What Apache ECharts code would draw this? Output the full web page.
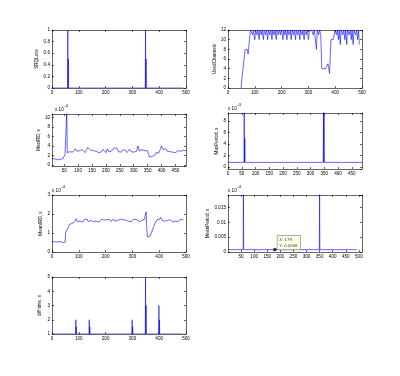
<!DOCTYPE html>
<html>
<head>
<meta charset="utf-8">
<script src="https://cdn.jsdelivr.net/npm/echarts@6/dist/echarts.min.js"></script>
<style>html,body{margin:0;padding:0;background:#fff}#c{width:400px;height:376px}</style>
</head>
<body>
<div id="c"></div>
<script>
// ---- data (x, y) ----
const srqLoss = [[1,0],[58,0],[59,1],[60,0],[61,0.5],[62,0],[348,0],[349,1],[350,0],[351,0.5],[352,0],[490,0]];

const usedChannels = [[49,0],[52,2],[56,4],[60,6],[64,8],[72,8],[75,7],[77,8],[80,10],[84,12],[88,12],[92,11],[95,12],[100,10],[103,12],[108,11],[112,12],[116,10],[119,12],[124,11],[128,12],[132,10],[135,12],[140,11],[144,12],[148,10],[151,12],[156,11],[160,12],[164,10],[167,12],[172,11],[176,12],[180,10],[183,12],[188,11],[192,12],[196,11],[200,12],[205,10],[208,12],[212,11],[216,12],[220,10],[223,12],[228,11],[232,12],[236,10],[239,12],[244,11],[248,12],[252,10],[255,12],[260,11],[264,12],[268,10],[271,12],[276,11],[280,12],[284,10],[287,12],[292,11],[296,12],[300,10],[304,12],[312,12],[318,11],[322,12],[326,12],[330,8],[333,12],[338,11],[342,12],[346,11],[350,4],[356,4],[364,4],[370,4],[373,5],[376,4],[379,3],[384,10],[392,10],[397,10],[400,12],[404,11],[408,12],[412,10],[415,12],[419,9],[422,12],[428,11],[432,12],[436,10],[439,12],[443,9],[446,12],[452,11],[456,12],[460,10],[463,12],[467,9],[470,12],[476,11],[480,12],[484,10],[487,12],[490,9]];

// MaxIRD in units of 1e-4 s
const maxIRD = [[6,1.3],[10,1.2],[15,1.3],[20,1.2],[25,1.1],[30,1.3],[35,1.2],[40,1.4],[45,1.3],[50,1.5],[53,2.2],[56,2.0],[58,2.4],[59,11],[60,11],[61,2.6],[65,2.5],[70,2.8],[75,2.4],[80,2.7],[85,3.1],[90,3.4],[95,2.9],[100,2.7],[105,3.0],[110,2.8],[115,3.2],[120,2.9],[125,2.6],[130,3.0],[135,3.7],[140,3.3],[145,3.1],[150,3.4],[155,3.0],[160,2.7],[165,2.9],[170,3.3],[175,2.6],[180,3.0],[185,2.8],[190,3.3],[195,2.9],[200,2.6],[205,3.4],[210,2.8],[215,3.1],[220,2.9],[225,3.3],[230,3.6],[235,3.2],[240,3.5],[245,2.8],[250,3.0],[255,2.7],[260,3.2],[265,2.9],[270,3.1],[275,2.6],[280,3.0],[285,3.3],[290,2.8],[295,3.0],[300,2.7],[305,3.1],[310,2.9],[315,4.0],[320,3.0],[325,2.8],[330,3.2],[335,2.9],[340,3.0],[345,2.8],[350,3.0],[353,2.2],[356,1.7],[360,1.6],[365,1.8],[370,1.7],[375,2.0],[380,2.6],[385,2.8],[390,2.5],[395,3.2],[400,4.0],[405,3.3],[410,3.1],[415,3.4],[420,2.9],[425,3.1],[430,2.8],[435,3.0],[440,2.7],[445,2.9],[450,2.6],[455,2.8],[460,3.0],[465,2.6],[470,2.9],[475,2.7],[480,3.1],[485,3.2],[488,3.0]];

// MaxPeriod in units of 1e-3 s
const maxPeriod = [[0,0.8],[58,0.8],[59,9.6],[60,0.8],[61,5.0],[62,0.8],[346,0.8],[347,9.6],[348,0.8],[349,9.6],[350,0.8],[487,0.8]];

// MeanIRD in units of 1e-4 s
const meanIRD = [[1,0.55],[5,0.52],[10,0.54],[15,0.5],[20,0.53],[25,0.51],[30,0.55],[35,0.52],[40,0.5],[45,0.54],[49,0.52],[51,1.05],[55,1.15],[58,1.1],[61,1.3],[65,1.45],[70,1.35],[75,1.5],[80,1.42],[85,1.6],[90,1.75],[95,1.6],[100,1.68],[105,1.62],[110,1.72],[115,1.58],[120,1.7],[125,1.64],[130,1.74],[135,1.6],[140,1.7],[145,1.66],[150,1.72],[155,1.6],[160,1.68],[165,1.62],[170,1.7],[175,1.58],[180,1.66],[185,1.72],[190,1.62],[195,1.68],[200,1.6],[205,1.7],[210,1.64],[215,1.72],[220,1.6],[225,1.68],[230,1.74],[235,1.62],[240,1.7],[245,1.66],[250,1.6],[255,1.72],[260,1.64],[265,1.7],[270,1.6],[275,1.68],[280,1.74],[285,1.62],[290,1.7],[295,1.6],[300,1.68],[305,1.72],[310,1.62],[315,1.7],[320,1.64],[325,1.6],[330,1.7],[335,1.66],[340,1.6],[345,1.72],[349,1.7],[351,2.12],[353,1.4],[356,0.8],[360,0.78],[365,0.82],[368,0.9],[372,1.05],[376,1.2],[380,1.35],[384,1.5],[388,1.55],[392,1.7],[396,1.78],[400,1.7],[405,1.82],[410,1.68],[415,1.75],[420,1.62],[425,1.72],[430,1.66],[435,1.6],[440,1.7],[445,1.64],[450,1.58],[455,1.68],[460,1.62],[465,1.7],[470,1.6],[475,1.66],[480,1.72],[485,1.62],[490,1.68]];

const meanPeriod = [[1,0.0008],[58,0.0008],[59,0.0195],[60,0.0008],[349,0.0008],[350,0.0195],[351,0.0008],[492,0.0008]];
const dataTip = [[179,0.0008]];

const diffTime = [[1,1],[88,1],[89,2],[90,1],[91,1.5],[92,1],[138,1],[139,2],[140,1],[141,1.5],[142,1],[298,1],[299,2],[300,1],[301,1.5],[302,1],[303,1.1],[304,1],[348,1],[349,5],[350,1],[351,3],[352,1],[398,1],[399,3],[400,1],[401,2],[402,1],[490,1]];

const yNames = ['SRQLoss','UsedChannels','MaxIRD, s','MaxPeriod, s','MeanIRD, s','MeanPeriod, s','diff time, s'];
const seriesData = [srqLoss, usedChannels, maxIRD, maxPeriod, meanIRD, meanPeriod, diffTime];

// ---- layout / axes config ----
const FONT = 'Liberation Sans';
const FS = 4.6;
const plots = [
  {rect:[52,30,134,58],  x:{min:0,max:500,interval:100}, y:{min:0,max:1,interval:0.2}, gap:10},
  {rect:[228,30,134,58], x:{min:0,max:500,interval:100}, y:{min:0,max:12,interval:2}, gap:6.5},
  {rect:[52,114,134,52], x:{min:6,max:488,splitNumber:9,hideMin:true,hideMax:true}, y:{min:-0.2,max:10.7,splitNumber:5,hideMin:true,hideMax:true}, gap:8.5},
  {rect:[228,113,134,56],x:{min:0,max:487,interval:50,hideMax:true}, y:{min:-0.35,max:9.4,splitNumber:5,hideMin:true,hideMax:true}, gap:6.5},
  {rect:[52,195,134,57], x:{min:0,max:500,interval:100}, y:{min:0,max:3,interval:1}, gap:6},
  {rect:[228,195,134,57],x:{min:0,max:512,interval:50,hideMin:true,hideMax:true}, y:{min:0,max:0.0192,splitNumber:4,hideMax:true}, gap:4.5},
  {rect:[52,277,134,57], x:{min:0,max:500,interval:100}, y:{min:1,max:5,interval:1}, gap:9.5}
];

const lineStyle = {color:'#000', width:0.6};
function axisBase(gi, cfg, pos, labels){
  const a = {
    type:'value', gridIndex:gi, position:pos, min:cfg.min, max:cfg.max,
    axisLine:{show:true, onZero:false, lineStyle:lineStyle},
    axisTick:{show:true, inside:true, length:2, lineStyle:lineStyle},
    splitLine:{show:false},
    axisLabel:{show:labels, fontSize:FS, fontFamily:FONT, color:'#000', margin:2,
      showMinLabel: !cfg.hideMin, showMaxLabel: !cfg.hideMax}
  };
  if (cfg.interval !== undefined) a.interval = cfg.interval;
  if (cfg.splitNumber !== undefined) a.splitNumber = cfg.splitNumber;
  return a;
}

const grid = [], xAxis = [], yAxis = [], series = [];
plots.forEach((p, i) => {
  grid.push({left:p.rect[0], top:p.rect[1], width:p.rect[2], height:p.rect[3], show:false});
  xAxis.push(axisBase(i, p.x, 'bottom', true));
  const ya = axisBase(i, p.y, 'left', true);
  ya.name = yNames[i]; ya.nameLocation = 'middle'; ya.nameGap = p.gap; ya.nameRotate = 90;
  ya.nameTextStyle = {fontSize:FS, fontFamily:FONT, color:'#000'};
  yAxis.push(ya);
});
// mirrored box axes (top and right)
plots.forEach((p, i) => {
  xAxis.push(axisBase(i, p.x, 'top', false));
  yAxis.push(axisBase(i, p.y, 'right', false));
});

seriesData.forEach((d, i) => {
  series.push({type:'line', xAxisIndex:i, yAxisIndex:i, data:d, showSymbol:false, symbol:'none',
    lineStyle:{color:'#0000ff', width:0.6}, clip:true, z:3, silent:true});
});
series.push({type:'scatter', xAxisIndex:5, yAxisIndex:5, data:dataTip, symbol:'rect', symbolSize:3,
  itemStyle:{color:'#000'}, z:5, silent:true,
  label:{show:true, position:'right', offset:[0,-7], distance:1,
    formatter: (pr) => 'X: ' + pr.value[0] + '\nY: ' + pr.value[1].toFixed(4),
    fontSize:4.3, fontFamily:FONT, color:'#000', lineHeight:5.5,
    backgroundColor:'#ffffe1', borderColor:'#555', borderWidth:0.5, padding:[1.5,3,1.5,2]}});

// exponent labels
function expo(x, y, e){
  return [
    {type:'text', left:x, top:y, style:{text:'x 10', fontSize:FS, fontFamily:FONT, fill:'#000'}},
    {type:'text', left:x+9.5, top:y-4, style:{text:e, fontSize:FS-0.6, fontFamily:FONT, fill:'#000'}}
  ];
}
const graphic = [].concat(expo(55,107.5,'-4'), expo(228,106.5,'-3'), expo(52,188.5,'-4'), expo(228,188.5,'-4'));

const chart = echarts.init(document.getElementById('c'), null, {renderer:'canvas'});
chart.setOption({animation:false, backgroundColor:'#fff', grid, xAxis, yAxis, series, graphic});
</script>
</body>
</html>
